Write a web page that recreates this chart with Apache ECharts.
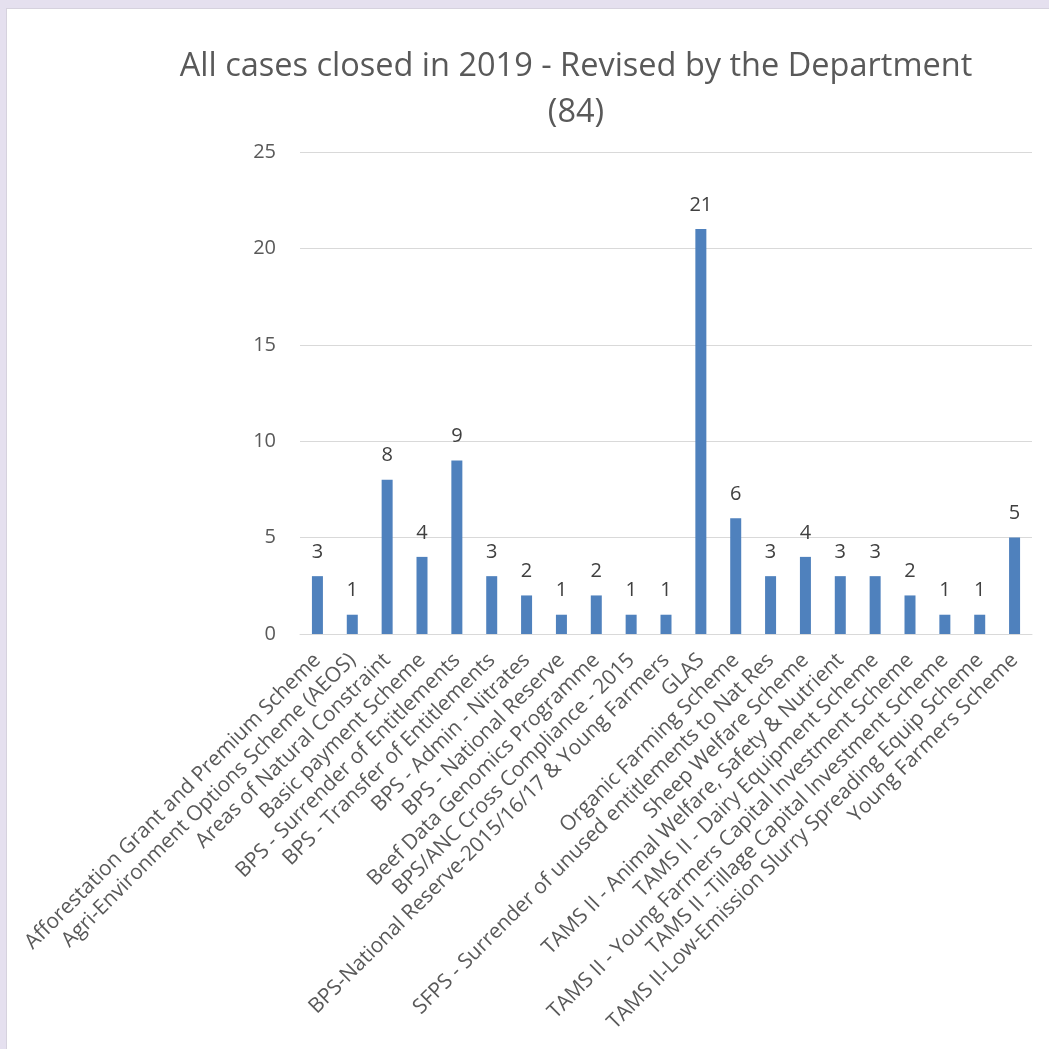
<!DOCTYPE html>
<html>
<head>
<meta charset="utf-8">
<script src="https://cdn.jsdelivr.net/npm/echarts@6/dist/echarts.min.js"></script>
<style>
html,body{margin:0;padding:0;width:1049px;height:1049px;overflow:hidden;background:#e5e0ef;}
#panel{position:absolute;left:6px;top:8px;width:1043px;height:1041px;background:#ffffff;border-left:1px solid #d6d2de;border-top:1px solid #d6d2de;box-sizing:border-box;}
#chart{position:absolute;left:0;top:0;width:1049px;height:1049px;}
</style>
</head>
<body>
<div id="panel"></div>
<div id="chart"></div>
<script>
var titleText = "All cases closed in 2019 - Revised by the Department\n(84)";
var categories = [
  "Afforestation Grant and Premium Scheme",
  "Agri-Environment Options Scheme (AEOS)",
  "Areas of Natural Constraint",
  "Basic payment Scheme",
  "BPS - Surrender of Entitlements",
  "BPS - Transfer of Entitlements",
  "BPS - Admin - Nitrates",
  "BPS - National Reserve",
  "Beef Data Genomics Programme",
  "BPS/ANC Cross Compliance - 2015",
  "BPS-National Reserve-2015/16/17 & Young Farmers",
  "GLAS",
  "Organic Farming Scheme",
  "SFPS - Surrender of unused entitlements to Nat Res",
  "Sheep Welfare Scheme",
  "TAMS II - Animal Welfare, Safety & Nutrient",
  "TAMS II - Dairy Equipment Scheme",
  "TAMS II - Young Farmers Capital Investment Scheme",
  "TAMS II -Tillage Capital Investment Scheme",
  "TAMS II-Low-Emission Slurry Spreading Equip Scheme",
  "Young Farmers Scheme"
];
var values = [3, 1, 8, 4, 9, 3, 2, 1, 2, 1, 1, 21, 6, 3, 4, 3, 3, 2, 1, 1, 5];
var yMin = 0, yMax = 25, yStep = 5;

var chart = echarts.init(document.getElementById('chart'), null, {renderer: 'canvas'});
chart.setOption({
  backgroundColor: 'transparent',
  animation: false,
  title: {
    text: titleText,
    left: 571,
    top: 39,
    textAlign: 'center',
    textStyle: {
      fontFamily: '"Open Sans", sans-serif',
      fontSize: 32.5,
      fontWeight: 'normal',
      color: '#595959',
      lineHeight: 46
    }
  },
  grid: {left: 300, right: 17, top: 152, bottom: 415, containLabel: false},
  xAxis: {
    type: 'category',
    data: categories,
    axisLine: {show: true, lineStyle: {color: '#d9d9d9', width: 1}},
    axisTick: {show: false},
    axisLabel: {
      interval: 0,
      rotate: 45,
      margin: 23,
      color: '#595959',
      fontFamily: '"Open Sans", sans-serif',
      fontSize: 20.9
    }
  },
  yAxis: {
    type: 'value',
    min: yMin,
    max: yMax,
    interval: yStep,
    axisLine: {show: false},
    axisTick: {show: false},
    splitLine: {lineStyle: {color: '#d9d9d9', width: 1}},
    axisLabel: {
      margin: 24,
      color: '#595959',
      fontFamily: '"Open Sans", sans-serif',
      fontSize: 20
    }
  },
  series: [{
    type: 'bar',
    data: values,
    barWidth: 11,
    itemStyle: {color: '#4f81bd'},
    label: {
      show: true,
      position: 'top',
      distance: 14,
      color: '#404040',
      fontFamily: '"Open Sans", sans-serif',
      fontSize: 20
    }
  }]
});
</script>
</body>
</html>
